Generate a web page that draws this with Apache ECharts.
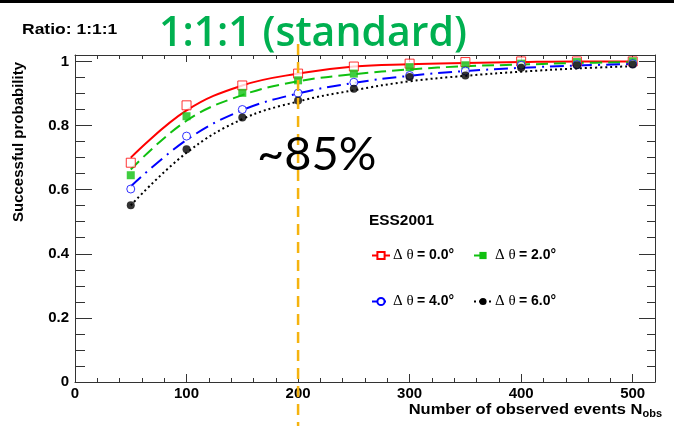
<!DOCTYPE html>
<html>
<head>
<meta charset="utf-8">
<script src="https://cdn.jsdelivr.net/npm/echarts@6/dist/echarts.min.js"></script>
<style>
  html, body { margin: 0; padding: 0; background: #fff; }
  #chart { width: 674px; height: 426px; }
</style>
</head>
<body>
<div id="chart"></div>
<script>
// number of observed events
const nObs = [50, 100, 150, 200, 250, 300, 350, 400, 450, 500];

// measured points
const pts0 = [0.684, 0.863, 0.925, 0.962, 0.984, 0.993, 0.998, 1.0, 1.0, 1.0];
const pts2 = [0.645, 0.829, 0.902, 0.941, 0.962, 0.982, 0.988, 0.993, 0.998, 1.0];
const pts4 = [0.602, 0.767, 0.850, 0.901, 0.935, 0.956, 0.970, 0.988, 0.990, 0.993];
const pts6 = [0.551, 0.726, 0.825, 0.878, 0.915, 0.951, 0.956, 0.980, 0.988, 0.990];

// fitted curves read at the same N
const fit0 = [0.700, 0.847, 0.925, 0.962, 0.984, 0.991, 0.995, 0.998, 1.0, 1.0];
const fit2 = [0.663, 0.815, 0.895, 0.938, 0.960, 0.975, 0.985, 0.990, 0.995, 0.998];
const fit4 = [0.610, 0.755, 0.848, 0.900, 0.933, 0.955, 0.970, 0.980, 0.987, 0.992];
const fit6 = [0.551, 0.715, 0.820, 0.875, 0.910, 0.938, 0.955, 0.968, 0.978, 0.985];

const names = ['Δ θ = 0.0°', 'Δ θ = 2.0°', 'Δ θ = 4.0°', 'Δ θ = 6.0°'];
const cutLine = 200;

const RED = '#ff0000', GREEN = '#10c010', BLUE = '#0000ff', BLACK = '#000000';
const ORANGE = '#f5b30f';
const FRAME = '#333';
const labelFont = 'Liberation Sans';

const W = 674, H = 426;
const G = { left: 75, right: 19, top: 55, bottom: 44 };

const pairs = arr => nObs.map((n, i) => [n, arr[i]]);

function fitSeries(name, data, color, dash, symbol, filled) {
  return {
    type: 'line',
    name: name,
    data: pairs(data),
    smooth: 0.4,
    showSymbol: false,
    symbol: symbol,
    lineStyle: { color: color, width: 2, type: dash },
    itemStyle: filled
      ? { color: color }
      : { color: '#fff', borderColor: color, borderWidth: 1 },
    z: 3
  };
}

function pointSeries(name, data, color, symbol, filled, size) {
  return {
    type: 'scatter',
    name: name,
    data: pairs(data),
    symbol: symbol,
    symbolSize: size,
    itemStyle: filled
      ? { color: color }
      : { color: '#fff', borderColor: color, borderWidth: 1 },
    z: 4
  };
}

function legendAt(name, left, top) {
  return {
    data: [name],
    left: left,
    top: top,
    padding: 0,
    itemWidth: 18,
    itemHeight: 9,
    itemGap: 0,
    selectedMode: false,
    formatter: n => '{g|Δ θ} {b|' + n.replace('Δ θ ', '') + '}',
    textStyle: {
      padding: [0, 0, 0, -2],
      rich: {
        g: { fontFamily: 'Liberation Serif', fontSize: 15, color: '#000' },
        b: { fontFamily: labelFont, fontWeight: 'bold', fontSize: 14, color: '#000' }
      }
    }
  };
}

const labelStyle = {
  fontFamily: labelFont,
  fontWeight: 'bold',
  fontSize: 15,
  color: '#000'
};

// ticks always come out on the outer side of an axis, so the inward frame
// ticks live on thin helper grids that sit just outside each frame edge
function xAx(gridIndex, position, interval, tick, line, label) {
  return {
    type: 'value',
    gridIndex: gridIndex,
    position: position,
    min: 0,
    max: 520,
    interval: interval,
    axisLine: { show: line, onZero: false, lineStyle: { color: FRAME, width: 1 } },
    axisTick: { show: tick > 0, length: tick, lineStyle: { color: FRAME } },
    axisLabel: Object.assign({ show: label, showMaxLabel: false, margin: 4 }, labelStyle),
    splitLine: { show: false }
  };
}

function yAx(gridIndex, position, interval, tick, line, label) {
  return {
    type: 'value',
    gridIndex: gridIndex,
    position: position,
    min: 0,
    max: 1.02,
    interval: interval,
    axisLine: { show: line, onZero: false, lineStyle: { color: FRAME, width: 1 } },
    axisTick: { show: tick > 0, length: tick, lineStyle: { color: FRAME } },
    axisLabel: Object.assign({ show: label, showMaxLabel: false, margin: 6 }, labelStyle),
    splitLine: { show: false }
  };
}

const hidden = gridIndex => ({ type: 'value', gridIndex: gridIndex, show: false, min: 0, max: 1 });

const chart = echarts.init(document.getElementById('chart'));

chart.setOption({
  animation: false,
  backgroundColor: '#fff',
  grid: [
    G,
    // strip below the frame: its top edge is the bottom frame line
    { left: G.left, right: G.right, top: H - G.bottom, height: 1 },
    // strip above the frame: its bottom edge is the top frame line
    { left: G.left, right: G.right, top: G.top - 1, height: 1 },
    // strip left of the frame
    { left: G.left - 1, width: 1, top: G.top, bottom: G.bottom },
    // strip right of the frame
    { left: W - G.right, width: 1, top: G.top, bottom: G.bottom }
  ],
  xAxis: [
    xAx(0, 'bottom', 100, 0, true, true),
    xAx(0, 'top', 100, 0, true, false),
    xAx(1, 'top', 100, 8, false, false),
    xAx(1, 'top', 20, 4, false, false),
    xAx(2, 'bottom', 100, 7, false, false),
    xAx(2, 'bottom', 20, 4, false, false),
    hidden(3),
    hidden(4)
  ],
  yAxis: [
    yAx(0, 'left', 0.2, 0, true, true),
    yAx(0, 'right', 0.2, 0, true, false),
    yAx(3, 'right', 0.2, 17, false, false),
    yAx(3, 'right', 0.05, 10, false, false),
    yAx(4, 'left', 0.2, 16, false, false),
    yAx(4, 'left', 0.05, 8, false, false),
    hidden(1),
    hidden(2)
  ],
  legend: [
    legendAt(names[0], 371, 248),
    legendAt(names[1], 473, 248),
    legendAt(names[2], 371, 294),
    legendAt(names[3], 473, 294)
  ],
  series: [
    fitSeries(names[0], fit0, RED, 'solid', 'rect', false),
    fitSeries(names[1], fit2, GREEN, [12, 6], 'rect', true),
    fitSeries(names[2], fit4, BLUE, [14, 6, 2, 6], 'circle', false),
    fitSeries(names[3], fit6, BLACK, [2, 3], 'circle', true),
    pointSeries('p0', pts0, RED, 'rect', false, 9),
    pointSeries('p2', pts2, GREEN, 'rect', true, 8),
    pointSeries('p4', pts4, BLUE, 'circle', false, 8),
    pointSeries('p6', pts6, BLACK, 'circle', true, 8),
    {
      // vertical cut at N = 200, running past the frame
      type: 'custom',
      name: 'cut',
      silent: true,
      clip: false,
      z: 6,
      data: [[cutLine, 0]],
      renderItem: (params, api) => {
        const x = api.coord([api.value(0), 0])[0];
        return {
          type: 'line',
          shape: { x1: x, y1: 44, x2: x, y2: H },
          style: { stroke: ORANGE, lineWidth: 2.5, lineDash: [11, 7] }
        };
      }
    }
  ],
  graphic: [
    {
      type: 'rect',
      shape: { x: 0, y: 0, width: W, height: 3 },
      style: { fill: '#000' },
      z: 10
    },
    {
      type: 'text',
      x: 22,
      y: 30,
      scaleX: 1.25,
      style: {
        text: 'Ratio: 1:1:1', x: 0, y: 0, verticalAlign: 'middle',
        font: 'bold 14px "Liberation Sans"', fill: '#000'
      },
      z: 30
    },
    {
      type: 'text',
      x: 159,
      y: 34,
      style: {
        text: '1:1:1 (standard)', x: 0, y: 0, verticalAlign: 'middle',
        font: '600 41px "Open Sans"', fill: '#00b050'
      },
      z: 30
    },
    {
      type: 'text',
      x: 257,
      y: 155,
      style: {
        text: '~85%', x: 0, y: 0, verticalAlign: 'middle',
        font: '47px Lato', fill: '#000'
      },
      z: 30
    },
    {
      type: 'text',
      x: 369,
      y: 221,
      scaleX: 1.1,
      style: {
        text: 'ESS2001', x: 0, y: 0, verticalAlign: 'middle',
        font: 'bold 14px "Liberation Sans"', fill: '#000'
      },
      z: 30
    },
    {
      type: 'text',
      x: 11,
      y: 222,
      rotation: Math.PI / 2,
      style: { text: 'Successful probability', font: 'bold 15px "Liberation Sans"', fill: '#000' },
      z: 30
    },
    {
      type: 'text',
      x: 662,
      y: 410,
      scaleX: 1.1,
      style: {
        text: '{a|Number of observed events N}{s|obs}',
        x: 0, y: 0, align: 'right', verticalAlign: 'middle',
        rich: {
          a: { font: 'bold 15px "Liberation Sans"', fill: '#000' },
          s: { font: 'bold 10px "Liberation Sans"', fill: '#000', padding: [9, 0, 0, 0] }
        }
      },
      z: 30
    }
  ]
});
</script>
</body>
</html>
